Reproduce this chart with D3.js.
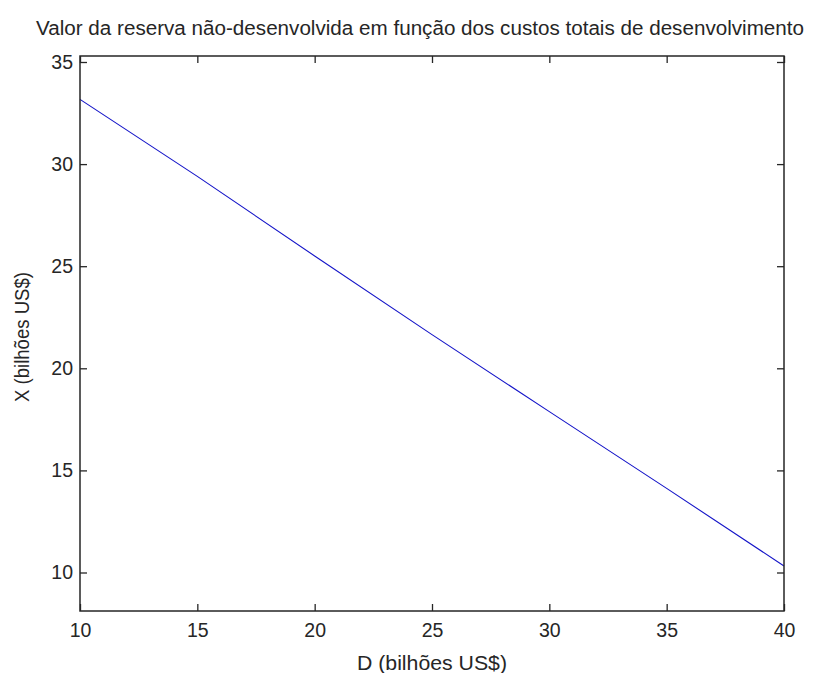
<!DOCTYPE html>
<html><head><meta charset="utf-8">
<script src="https://cdn.jsdelivr.net/npm/d3@7"></script>
<style>body{margin:0;background:#fff}svg{display:block}text{font-family:"Liberation Sans",Arial,sans-serif;fill:#262626}</style>
</head><body><svg id="c" width="818" height="673"></svg>
<script>
const titleText = "Valor da reserva não-desenvolvida em função dos custos totais de desenvolvimento";
const xLabel = "D (bilhões US$)";
const yLabel = "X (bilhões US$)";
const dValues = [10, 15, 20, 25, 30, 35, 40];
const xValues = [33.17, 29.4, 25.5, 21.65, 17.88, 14.12, 10.32];
const xTicks = [10, 15, 20, 25, 30, 35, 40];
const yTicks = [10, 15, 20, 25, 30, 35];

const svg = d3.select("#c");
const L = 80, R = 784, T = 56, B = 611;
const x = d3.scaleLinear().domain([10, 40]).range([L, R]);
const y = d3.scaleLinear().domain([10, 35]).range([572.5, 62]);
const fs = 19.5, tl = 7;
const ff = '"Liberation Sans",Arial,sans-serif';

svg.append("text").attr("x", 420).attr("y", 35).attr("text-anchor", "middle")
  .attr("font-size", fs).attr("textLength", 768).attr("lengthAdjust", "spacingAndGlyphs").text(titleText);

// data line
const pts = dValues.map((d, i) => [d, xValues[i]]);
svg.append("path").datum(pts)
  .attr("d", d3.line().x(d => x(d[0])).y(d => y(d[1])))
  .attr("fill", "none").attr("stroke", "#1414c8").attr("stroke-width", 1.1);

const ax = "#262626";
const gB = svg.append("g").attr("transform", `translate(0,${B})`)
  .call(d3.axisBottom(x).tickValues(xTicks).tickSize(-tl).tickPadding(12).tickFormat(d3.format("d")));
const gT = svg.append("g").attr("transform", `translate(0,${T})`)
  .call(d3.axisTop(x).tickValues(xTicks).tickSize(-tl).tickFormat(""));
const gL = svg.append("g").attr("transform", `translate(${L},0)`)
  .call(d3.axisLeft(y).tickValues(yTicks).tickSize(-tl).tickPadding(7).tickFormat(d3.format("d")));
const gR = svg.append("g").attr("transform", `translate(${R},0)`)
  .call(d3.axisRight(y).tickValues(yTicks).tickSize(-tl).tickFormat(""));
[gB, gT, gL, gR].forEach(g => {
  g.select(".domain").remove();
  g.selectAll(".tick line").attr("stroke", ax).attr("stroke-width", 1.3);
  g.selectAll("text").attr("font-size", fs).attr("font-family", ff).attr("fill", ax);
});
svg.append("rect").attr("x", L).attr("y", T).attr("width", R - L).attr("height", B - T)
  .attr("fill", "none").attr("stroke", ax).attr("stroke-width", 1.5);

svg.append("text").attr("x", 432).attr("y", 670).attr("text-anchor", "middle")
  .attr("font-size", fs).attr("textLength", 150).attr("lengthAdjust", "spacingAndGlyphs").text(xLabel);
svg.append("text").attr("transform", `translate(29,337) rotate(-90)`)
  .attr("text-anchor", "middle").attr("font-size", fs).attr("textLength", 130).attr("lengthAdjust", "spacingAndGlyphs").text(yLabel);
</script></body></html>
